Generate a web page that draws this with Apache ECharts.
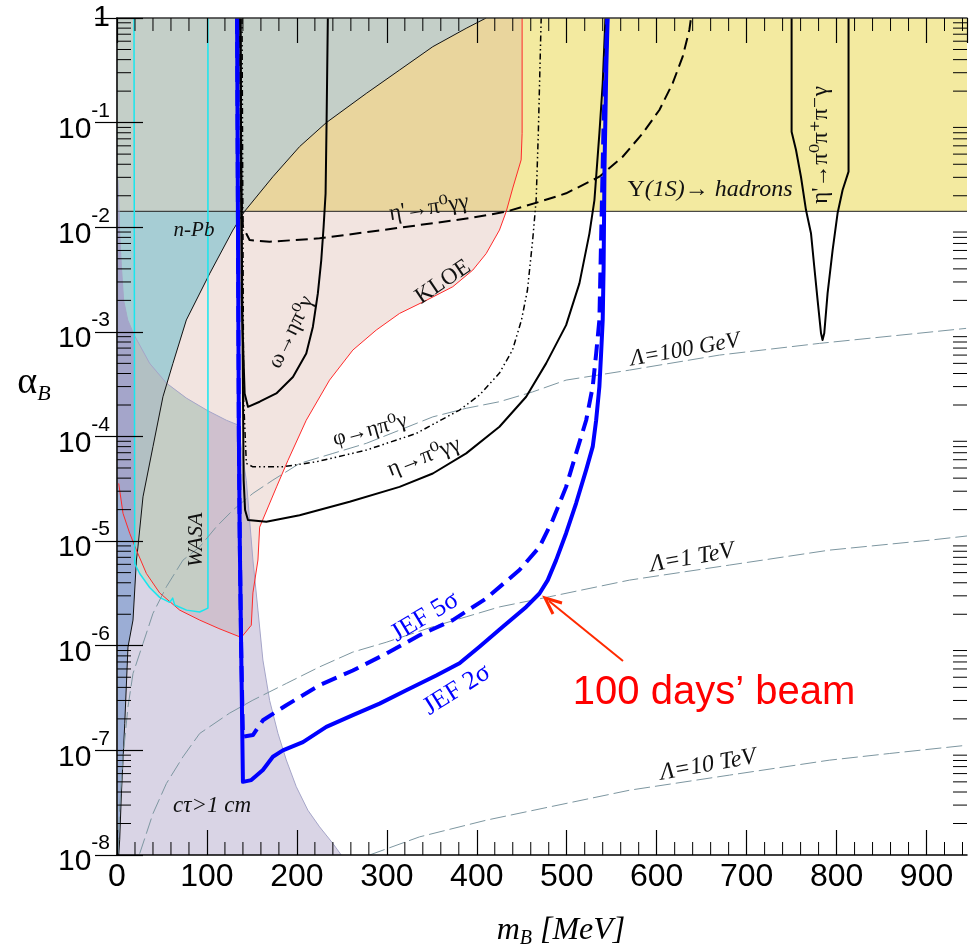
<!DOCTYPE html>
<html><head><meta charset="utf-8">
<script src="https://cdn.jsdelivr.net/npm/echarts@6/dist/echarts.min.js"></script>
<style>html,body{margin:0;padding:0;background:#fff}#c{width:969px;height:949px}</style>
</head><body><div id="c"></div>
<script>
// ---------------- data (m_B in MeV, alpha_B) ----------------
const X_MAX = 945, Y_MIN = 1e-8, Y_MAX = 1;
const upsilonBand = [1.42e-2, 1]; // Υ(1S)→hadrons excluded band (alpha range)

const nPbCurve = [[1.9,1e-8],[3.0,1.4e-8],[4.9,3.9e-8],[8.6,1.8e-7],[12.2,9.7e-7],[17.8,1.76e-6],[21.6,6.6e-6],[23.3,8.8e-6],[28.9,2.65e-5],[40,8.0e-5],[51.1,2.4e-4],[62.2,5.0e-4],[77.1,1.3e-3],[103,3.6e-3],[128.9,9.4e-3],[141.9,1.42e-2],[173.3,3.04e-2],[203,5.9e-2],[232.7,0.1],[277.1,0.19],[314.1,0.318],[351.1,0.532],[388.2,0.797],[410.4,1]];

const kloeCurve = [[1.9,3.56e-5],[6.7,1.84e-5],[14.1,1.19e-5],[21.6,8.2e-6],[32.7,4.9e-6],[47.4,3.2e-6],[69.7,2.19e-6],[91.9,1.76e-6],[113.3,1.46e-6],[138.2,1.2e-6],[149.3,1.57e-6],[151.1,3.2e-6],[156.7,6.6e-6],[158.6,1.36e-5],[177.4,3.3e-5],[190,5.9e-5],[210.4,1.43e-4],[236.3,3.46e-4],[262.2,6.7e-4],[288.2,1.04e-3],[314.1,1.5e-3],[343.8,2.0e-3],[373.3,2.7e-3],[395.6,3.9e-3],[410.4,5.6e-3],[425.2,9.4e-3],[432.7,1.41e-2],[440,2.37e-2],[449.3,4.4e-2],[450.4,7.9e-2],[450.4,1]];

const ctauCurve = [[1.1,2.83e-2],[3.0,8.8e-3],[4.9,4.2e-3],[7.4,2.0e-3],[11.9,1.3e-3],[18.9,9.4e-4],[36.3,5.0e-4],[54.9,3.24e-4],[77.1,2.33e-4],[101.1,1.76e-4],[121.6,1.43e-4],[134.4,1.29e-4],[143.8,3.8e-5],[147.4,1.6e-5],[151.1,6.6e-6],[156.7,2.19e-6],[162.2,7.3e-7],[169.7,3.0e-7],[178.9,1.46e-7],[188.2,8.1e-8],[199.3,4.5e-8],[212.2,2.68e-8],[225.2,1.86e-8],[240,1.29e-8],[249.3,1e-8]];

const wasaCurve = [[18.9,1],[19.7,6.1e-6],[25.2,4.9e-6],[36.3,3.6e-6],[47.4,2.9e-6],[58.6,2.6e-6],[61.9,2.85e-6],[64.1,2.45e-6],[77.4,2.19e-6],[91.9,2.1e-6],[101.1,2.29e-6],[101.1,1]];

const jef2Sigma = [[133.5,1],[135.5,1e-4],[136.5,1e-5],[138,1e-6],[140,5.0e-8],[149.3,5.2e-8],[162.2,6.5e-8],[173.3,8.7e-8],[184.4,1.0e-7],[206.7,1.2e-7],[232.7,1.68e-7],[262.2,2.17e-7],[291.9,2.8e-7],[321.6,3.76e-7],[354.9,5.2e-7],[380.8,6.8e-7],[403,9.8e-7],[428.9,1.52e-6],[454.9,2.35e-6],[469.7,3.16e-6],[478.9,4.24e-6],[488.2,6.58e-6],[499.3,1.19e-5],[510.4,2.3e-5],[521.6,4.8e-5],[528.9,8.0e-5],[532.7,1.43e-4],[536.3,3.0e-4],[538.2,6.2e-4],[540,1.3e-3],[541,4.2e-3],[542,3.8e-2],[544,0.34],[545.5,1]];

const jef5Sigma = [[133.5,1],[135.5,1e-4],[136.5,1e-5],[138,1e-6],[140,1.35e-7],[141.9,1.3e-7],[151.1,1.4e-7],[162.2,1.94e-7],[188.2,2.7e-7],[225.2,4.2e-7],[262.2,5.8e-7],[299.3,8.4e-7],[336.3,1.26e-6],[373.3,1.76e-6],[410.4,2.83e-6],[447.4,5.3e-6],[469.7,8.8e-6],[484.4,1.59e-5],[499.3,3.3e-5],[510.4,6.9e-5],[521.6,1.43e-4],[528.9,3.0e-4],[532.7,6.2e-4],[536.3,1.3e-3],[538.5,1e-2],[541,0.1],[545,1]];

const omegaCurve = [[137.4,1],[138.6,2.0e-3],[141.9,2.58e-4],[145.6,1.92e-4],[158.6,2.15e-4],[177.1,2.58e-4],[195.6,3.7e-4],[210.4,6.2e-4],[217.8,1.12e-3],[223.3,2.33e-3],[227.1,4.86e-3],[229.7,1.01e-2],[231.9,2.1e-2],[233,0.1],[234.4,1]];

const etaPrimeCurve = [[136.9,1],[138,2.27e-2],[140,1.01e-2],[147.4,7.55e-3],[169.7,7.27e-3],[225.2,7.83e-3],[280.8,9.06e-3],[336.3,1.05e-2],[391.9,1.22e-2],[432.7,1.41e-2],[469.7,1.75e-2],[499.3,2.11e-2],[536.3,3.04e-2],[562.2,4.72e-2],[584.4,7.9e-2],[603,0.132],[617.8,0.238],[628.9,0.427],[636.3,0.768],[638.2,1]];

const phiCurve = [[139,1],[140.8,2.23e-4],[143.8,5.53e-5],[151.1,5.13e-5],[184.4,5.13e-5],[221.6,5.73e-5],[277.1,7.41e-5],[332.7,1.07e-4],[380.8,1.79e-4],[403,2.49e-4],[425.2,4.04e-4],[439.7,6.7e-4],[449.7,1.3e-3],[456.3,2.5e-3],[462.1,7.5e-3],[466,1.82e-2],[468.4,7.9e-2],[471.6,1]];

const etaCurve = [[136.9,1],[140.8,3.83e-5],[142.4,1.98e-5],[145.6,1.59e-5],[166,1.53e-5],[203,1.77e-5],[258.6,2.38e-5],[314.1,3.3e-5],[351.1,4.43e-5],[388.2,6.9e-5],[425.2,1.24e-4],[454.9,2.4e-4],[477.1,5.0e-4],[499.3,1.16e-3],[514.1,2.91e-3],[525.2,8.7e-3],[530.8,1.82e-2],[536.3,7.9e-2],[540,0.238],[543,1]];

const etaPrime3piCurve = [[750,1],[750,8.18e-2],[754.9,5.47e-2],[760.4,3.04e-2],[766,1.46e-2],[771.6,8.7e-3],[775.2,4.19e-3],[778.9,2.01e-3],[782.7,9.7e-4],[784.4,8.35e-4],[786.3,9.7e-4],[790,2.33e-3],[795.6,6.05e-3],[801.1,1.36e-2],[806.7,2.27e-2],[813.3,3.4e-2],[813.3,1]];

const lambda100GeV = [[1.1,1.03e-8],[3.0,2.88e-8],[6.7,8.67e-8],[12.2,2.6e-7],[17.8,5.43e-7],[28.9,1.05e-6],[40,2.04e-6],[54.9,3.66e-6],[73.3,6.58e-6],[91.9,8.8e-6],[110.4,1.37e-5],[128.9,1.98e-5],[151.1,2.86e-5],[173.3,3.83e-5],[203,5.53e-5],[240,6.89e-5],[277.1,8.6e-5],[314.1,1.15e-4],[351.1,1.54e-4],[388.2,1.86e-4],[425.2,2.15e-4],[462.2,2.67e-4],[499.3,3.46e-4],[569.7,4.31e-4],[669.7,6.0e-4],[780.8,7.76e-4],[944,1.08e-3]];

const lambda1TeV = [[25.2,1.03e-8],[40,2.49e-8],[54.9,4.82e-8],[73.3,8.67e-8],[91.9,1.45e-7],[125.2,2.27e-7],[151.1,3.02e-7],[188.2,4.36e-7],[225.2,6.28e-7],[262.2,8.7e-7],[299.3,1.08e-6],[351.1,1.52e-6],[388.2,1.89e-6],[425.2,2.35e-6],[480.8,2.94e-6],[569.7,4.24e-6],[680.8,5.9e-6],[791.9,8.2e-6],[903,1.02e-5],[945,1.12e-5]];

const lambda10TeV = [[280.8,1e-8],[336.3,1.49e-8],[410.4,2.15e-8],[480.8,2.88e-8],[569.7,4.16e-8],[680.8,5.8e-8],[791.9,8.06e-8],[858.6,9.33e-8],[945,1.12e-7]];

// ---------------- derived polygons ----------------
const bandPoly = [[0,upsilonBand[0]],[X_MAX,upsilonBand[0]],[X_MAX,upsilonBand[1]],[0,upsilonBand[1]]];
const nPbUpper = nPbCurve.filter(p => p[1] >= upsilonBand[0]).concat([[0,Y_MAX],[0,upsilonBand[0]]]);
const nPbLower = nPbCurve.filter(p => p[1] <= upsilonBand[0]).concat([[0,upsilonBand[0]],[0,Y_MIN]]);
const kloePoly = kloeCurve.concat([[0,Y_MAX],[0,kloeCurve[0][1]]]);
const ctauPoly = ctauCurve.concat([[0,Y_MIN],[0,ctauCurve[0][1]]]);
const wasaLo = wasaCurve[0][0], wasaHi = wasaCurve[wasaCurve.length-1][0];
const wasaInCtau = ctauCurve.filter(p => p[0] >= wasaLo && p[0] <= wasaHi).concat(wasaCurve.slice(1,-1).reverse());

const SERIF = "'Liberation Serif','DejaVu Serif',serif";
const SANS = "'Liberation Sans',Arial,Helvetica,sans-serif";

function region(name, pts, fill, z, clipPts) {
  return {
    name, type: 'custom', coordinateSystem: 'cartesian2d', silent: true, z, animation: false,
    data: [pts[0]],
    renderItem: (params, api) => {
      const el = { type: 'polygon', shape: { points: pts.map(p => api.coord(p)) }, style: { fill: fill } };
      if (clipPts) el.clipPath = { type: 'polygon', shape: { points: clipPts.map(p => api.coord(p)) } };
      return el;
    }
  };
}
function curve(name, pts, color, width, type, z) {
  return { name, type: 'line', data: pts, symbol: 'none', showSymbol: false, silent: true, z, animation: false,
    lineStyle: { color, width, type: type || 'solid', cap: 'butt', join: 'round' } };
}

// minor tick positions (axis decoration)
const xMinor = []; for (let m = 20; m < X_MAX; m += 20) if (m % 100) xMinor.push(m);
const yMinor = []; for (let e = -8; e < 0; e++) for (let k = 2; k <= 9; k++) yMinor.push(k * Math.pow(10, e));

const chart = echarts.init(document.getElementById('c'), null, { renderer: 'canvas' });

const axisCommonX = { type: 'value', min: 0, max: X_MAX, interval: 100, z: 50,
  splitLine: { show: false }, minorTick: { show: false } };
const axisCommonY = { type: 'log', logBase: 10, min: Y_MIN, max: Y_MAX, z: 50, splitLine: { show: false } };

const option = {
  animation: false,
  backgroundColor: '#fff',
  grid: { left: 117, right: 2, top: 18, bottom: 94, containLabel: false, outerBoundsMode: 'none' },
  xAxis: [
    Object.assign({}, axisCommonX, { position: 'bottom',
      axisLine: { show: true, lineStyle: { color: '#000', width: 1.5 } },
      axisTick: { show: true, inside: true, length: 25, lineStyle: { color: '#000', width: 1.2 } },
      axisLabel: { show: true, margin: 6, color: '#000', fontSize: 32, fontFamily: SANS, showMaxLabel: false },
      name: '{i|m}{sub|B}{i| [MeV]}', nameLocation: 'middle', nameGap: 58,
      nameTextStyle: { padding: [0, 0, 0, 38], rich: {
        i: { fontFamily: SERIF, fontStyle: 'italic', fontSize: 32, color: '#000', lineHeight: 36 },
        sub: { fontFamily: SERIF, fontStyle: 'italic', fontSize: 20, color: '#000', lineHeight: 36, verticalAlign: 'bottom' } } } }),
    Object.assign({}, axisCommonX, { position: 'top',
      axisLine: { show: true, lineStyle: { color: '#333', width: 1.5 } },
      axisTick: { show: true, inside: true, length: 25, lineStyle: { color: '#000', width: 1.2 } },
      axisLabel: { show: false } })
  ],
  yAxis: [
    Object.assign({}, axisCommonY, { position: 'left',
      axisLine: { show: true, lineStyle: { color: '#000', width: 1.5 } },
      axisTick: { show: true, inside: true, length: 26, lineStyle: { color: '#000', width: 1.2 } },
      axisLabel: { show: true, margin: 7,
        formatter: v => { const e = Math.round(Math.log10(v)); return e === 0 ? '{o|1}' : '{b|10}{s|' + e + '}'; },
        rich: {
          o: { fontSize: 30, lineHeight: 32, fontFamily: SANS, color: '#000' },
          b: { fontSize: 30, lineHeight: 32, fontFamily: SANS, color: '#000', verticalAlign: 'bottom' },
          s: { fontSize: 21, lineHeight: 44, fontFamily: SANS, color: '#000', verticalAlign: 'top' } } } }),
    Object.assign({}, axisCommonY, { position: 'right',
      axisLine: { show: true, lineStyle: { color: '#333', width: 1.5 } },
      axisTick: { show: true, inside: true, length: 22, lineStyle: { color: '#000', width: 1.2 } },
      axisLabel: { show: false } })
  ],
  series: [
    region('Υ(1S)→hadrons', bandPoly, 'rgb(243,234,160)', 1),
    region('n-Pb (upper)', nPbUpper, 'rgb(189,225,221)', 2),
    region('n-Pb (lower)', nPbLower, 'rgb(146,222,238)', 2),
    region('KLOE', kloePoly, 'rgba(212,165,152,0.30)', 3),
    region('cτ>1 cm', ctauPoly, 'rgba(120,100,160,0.28)', 4),
    region('n-Pb ∩ cτ', nPbLower, 'rgba(185,145,210,0.35)', 4, ctauPoly),
    region('WASA ∩ cτ', wasaInCtau, 'rgba(190,215,190,0.55)', 5),
    curve('band edge', [[0, upsilonBand[0]], [X_MAX, upsilonBand[0]]], '#222', 1, 'solid', 6),
    curve('cτ edge', ctauCurve, 'rgb(165,165,200)', 1, 'solid', 6),
    curve('n-Pb', nPbCurve, '#111', 1, 'solid', 6),
    curve('KLOE edge', kloeCurve, '#ff2a2a', 1, 'solid', 6),
    curve('WASA', wasaCurve, '#18e6ee', 1.5, 'solid', 6),
    curve('Λ=100 GeV', lambda100GeV, 'rgb(125,150,160)', 1, [16, 5], 7),
    curve('Λ=1 TeV', lambda1TeV, 'rgb(125,150,160)', 1, [16, 5], 7),
    curve('Λ=10 TeV', lambda10TeV, 'rgb(125,150,160)', 1, [16, 5], 7),
    curve('ω→ηπ0γ', omegaCurve, '#000', 2, 'solid', 8),
    curve("η'→π0γγ", etaPrimeCurve, '#000', 2, [12, 6], 8),
    curve('φ→ηπ0γ', phiCurve, '#000', 1.5, [6, 3, 1.5, 3, 1.5, 3], 8),
    curve('η→π0γγ', etaCurve, '#000', 2, 'solid', 8),
    curve("η'→π0π+π-γ", etaPrime3piCurve, '#000', 2, 'solid', 8),
    curve('JEF 5σ', jef5Sigma, '#0000ff', 4, [16, 8], 9),
    curve('JEF 2σ', jef2Sigma, '#0000ff', 4, 'solid', 9),
    { name: 'x minor ticks', type: 'custom', silent: true, z: 60, animation: false,
      data: xMinor.map(m => [m, Y_MIN]),
      renderItem: (params, api) => {
        const b = api.coord([api.value(0), Y_MIN]), t = api.coord([api.value(0), Y_MAX]);
        return { type: 'group', children: [
          { type: 'line', shape: { x1: b[0], y1: b[1], x2: b[0], y2: b[1] - 13 }, style: { stroke: '#000', lineWidth: 1 } },
          { type: 'line', shape: { x1: t[0], y1: t[1], x2: t[0], y2: t[1] + 13 }, style: { stroke: '#000', lineWidth: 1 } } ] };
      } },
    { name: 'y minor ticks', type: 'custom', silent: true, z: 60, animation: false,
      data: yMinor.map(v => [0, v]),
      renderItem: (params, api) => {
        const l = api.coord([0, api.value(1)]), r = api.coord([X_MAX, api.value(1)]);
        return { type: 'group', children: [
          { type: 'line', shape: { x1: l[0], y1: l[1], x2: l[0] + 14, y2: l[1] }, style: { stroke: '#000', lineWidth: 1 } },
          { type: 'line', shape: { x1: r[0] - 14, y1: r[1], x2: r[0], y2: r[1] }, style: { stroke: '#000', lineWidth: 1 } } ] };
      } }
  ],
  graphic: { elements: [] }
};

function txt(x, y, text, opts) {
  const o = opts || {};
  const style = { text, fill: o.color || '#111',
    font: (o.italic ? 'italic ' : '') + (o.size || 22) + 'px ' + (o.family || SERIF),
    align: 'center', verticalAlign: 'middle', textAlign: 'center', textVerticalAlign: 'middle' };
  if (o.rich) style.rich = o.rich;
  return { type: 'text', x, y, rotation: o.rot || 0, z: 100, silent: true, style };
}
const D = Math.PI / 180;
const richUps = {
  u: { fontFamily: SERIF, fontSize: 24, fill: '#111', color: '#111' },
  i: { fontFamily: SERIF, fontSize: 24, fontStyle: 'italic', fill: '#111', color: '#111' } };
const richAlpha = {
  a: { fontFamily: SERIF, fontSize: 38, fill: '#000', color: '#000', lineHeight: 44, verticalAlign: 'middle' },
  b: { fontFamily: SERIF, fontSize: 22, fontStyle: 'italic', fill: '#000', color: '#000', lineHeight: 44, verticalAlign: 'bottom' } };

option.graphic.elements = [
  txt(194, 230, 'n-Pb', { italic: true, size: 21 }),
  txt(196, 540, 'WASA', { italic: true, size: 22, rot: 90 * D }),
  txt(291, 332, 'ω→ηπ⁰γ', { size: 22, rot: 64 * D }),
  txt(429, 208, "η'→π⁰γγ", { size: 23, rot: 9 * D }),
  txt(443, 282, 'KLOE', { size: 23, rot: 34 * D }),
  txt(710, 190, '{u|Υ}{i|(1S)}{u|→ }{i|hadrons}', { size: 24, rich: richUps }),
  txt(821, 145, "η'→π⁰π⁺π⁻γ", { size: 23, rot: 90 * D }),
  txt(685, 350, 'Λ=100 GeV', { italic: true, size: 23, rot: 10 * D }),
  txt(692, 558, 'Λ=1 TeV', { italic: true, size: 24, rot: 10 * D }),
  txt(708, 765, 'Λ=10 TeV', { italic: true, size: 24, rot: 10 * D }),
  txt(370, 430, 'φ→ηπ⁰γ', { size: 22, rot: 15 * D }),
  txt(424, 457, 'η→π⁰γγ', { size: 23, rot: 21 * D }),
  txt(212, 806, 'cτ>1 cm', { italic: true, size: 23 }),
  txt(425, 617, 'JEF 5σ', { size: 26, rot: 31 * D, color: '#0000ff' }),
  txt(457, 690, 'JEF 2σ', { size: 26, rot: 32 * D, color: '#0000ff' }),
  txt(714, 693, '100 days’ beam', { size: 40, family: SANS, color: '#ff0000' }),
  txt(34, 383, '{a|α}{b|B}', { rich: richAlpha }),
  { type: 'line', z: 100, silent: true, shape: { x1: 623, y1: 661, x2: 549, y2: 601 }, style: { stroke: '#ff2a00', lineWidth: 2 } },
  { type: 'polyline', z: 100, silent: true, shape: { points: [[553, 614], [545, 598], [562, 603]] }, style: { stroke: '#ff2a00', lineWidth: 3, fill: null } }
];

chart.setOption(option);
</script>
</body></html>
